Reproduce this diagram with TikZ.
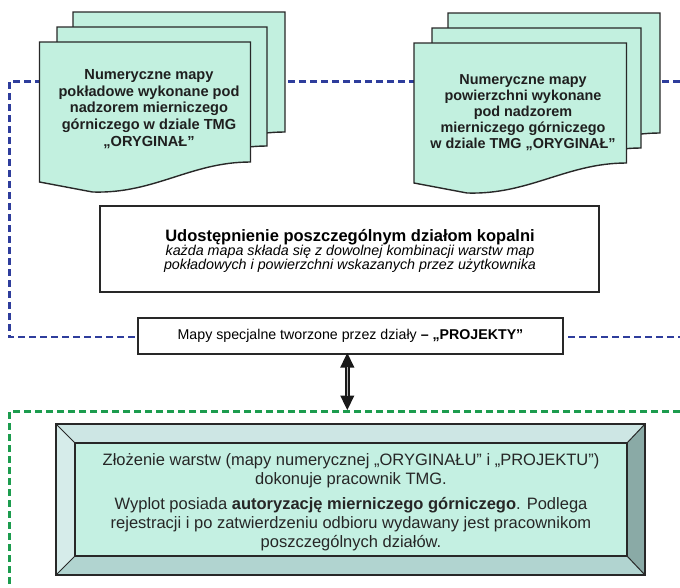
\documentclass[tikz,border=0pt]{standalone}
\usepackage{fontspec}
\setmainfont{Liberation Sans}
\usetikzlibrary{arrows.meta}
\definecolor{dashblue}{RGB}{46,61,156}
\definecolor{dashgreen}{RGB}{28,156,78}
\definecolor{sheetfill}{RGB}{194,240,223}
\definecolor{innerfill}{RGB}{196,240,226}
\definecolor{bevtop}{RGB}{205,230,228}
\definecolor{bevleft}{RGB}{214,236,234}
\definecolor{bevbottom}{RGB}{177,212,208}
\definecolor{bevright}{RGB}{138,170,166}
\definecolor{edge}{RGB}{40,40,40}
\tikzset{
  frameblue/.style={draw=dashblue, line width=2.5pt, dash pattern=on 7pt off 4pt},
  framegreen/.style={draw=dashgreen, line width=2.5pt, dash pattern=on 7pt off 4pt},
  sheet/.style={draw=edge, line width=1.4pt, fill=sheetfill, line join=miter},
  sheettext/.style={align=center, font=\fontsize{14.6}{16.6}\selectfont\bfseries, text=black!88},
  whitebox/.style={draw=edge, line width=1.6pt, fill=white, inner sep=0pt},
  bevel/.style={draw=edge, line width=1pt},
}
\newcommand\docsheet[5]{% left, top, right, bottom-right y, bottom-left y
  \path[sheet] (#1,#2) -- (#3,#2) -- (#3,#4)
    .. controls ({#3-60},{#4}) and ({#1+115},{#5+12}) .. ({#1+53},{#5+10})
    -- (#1,#5) -- cycle;}
\begin{document}
\begin{tikzpicture}[x=1pt,y=-1pt]
\useasboundingbox (0,0) rectangle (680,587);
% blue frame
\coordinate (bTL) at (9.3,81.7);
\coordinate (bTR) at (680,81.7);
\coordinate (bBL) at (9.3,337);
\coordinate (bBR) at (680,337);
\draw[frameblue] (bTR) -- (bTL) -- (bBL) -- (bBR);
% left stack
\docsheet{73}{12}{285}{132}{150}
\docsheet{57}{27}{267}{146}{166}
\docsheet{39.5}{42}{250.5}{162}{182}
% right stack
\docsheet{448}{13}{660}{133}{152}
\docsheet{432}{28}{641}{148}{168}
\docsheet{414}{43}{626.5}{163}{183}
\node[sheettext] (left) at (149,109) {Numeryczne mapy\\pokładowe wykonane pod\\nadzorem mierniczego\\górniczego w dziale TMG\\„ORYGINAŁ”};
\node[sheettext, font=\fontsize{14.4}{15.9}\selectfont\bfseries] (right) at (523,112.5) {Numeryczne mapy\\powierzchni wykonane\\pod nadzorem\\mierniczego górniczego\\w dziale TMG „ORYGINAŁ”};
% middle box
\node[whitebox, minimum width=499pt, minimum height=86pt] (udo) at (349.5,249) {};
\node[align=center, inner sep=0pt] (udotext) at (350,251)
  {{\fontsize{16.5}{18}\selectfont\bfseries Udostępnienie poszczególnym działom kopalni}\\[-1pt]
   {\fontsize{14.3}{15}\selectfont\itshape każda mapa składa się z dowolnej kombinacji warstw map}\\[-1pt]
   {\fontsize{14.3}{15}\selectfont\itshape pokładowych i powierzchni wskazanych przez użytkownika}};
\node[whitebox, minimum width=425pt, minimum height=36pt, font=\fontsize{14.2}{16}\selectfont] (mapy) at (350.5,336)
  {Mapy specjalne tworzone przez działy \textbf{– „PROJEKTY”}};
% green frame
\coordinate (gTL) at (9.3,411.7);
\coordinate (gTR) at (680,411.7);
\coordinate (gBL) at (9.3,587);
\draw[framegreen] (gTR) -- (gTL) -- (gBL);
% double arrow
\coordinate (arrEnd) at (347.3,410.5);
\draw[line width=4.5pt, draw=black!90, {Triangle[length=15pt,width=13pt]}-{Triangle[length=15pt,width=13pt]}] (347.3,352.5) -- (arrEnd);
\draw[line width=0.8pt, draw=gray!60] (347.3,367) -- (347.3,396);
% bevel box
\coordinate (A) at (56,424); \coordinate (B) at (645,424);
\coordinate (C) at (645,575); \coordinate (D) at (56,575);
\coordinate (a) at (75,443); \coordinate (b) at (627,443);
\coordinate (c) at (627,556); \coordinate (d) at (75,556);
\fill[bevtop] (A) -- (B) -- (b) -- (a) -- cycle;
\fill[bevright] (B) -- (C) -- (c) -- (b) -- cycle;
\fill[bevbottom] (D) -- (C) -- (c) -- (d) -- cycle;
\fill[bevleft] (A) -- (D) -- (d) -- (a) -- cycle;
\fill[innerfill] (a) rectangle (c);
\draw[bevel] (A) -- (a) (B) -- (b) (C) -- (c) (D) -- (d);
\draw[bevel, line width=1.3pt] (a) rectangle (c);
\draw[draw=edge, line width=1.6pt] (A) rectangle (C);
\node[align=center, font=\fontsize{16.5}{18.7}\selectfont, text=black!85] (zloz) at (351,502)
  {Złożenie warstw (mapy numerycznej „ORYGINAŁU” i „PROJEKTU”)\\
   dokonuje pracownik TMG.\\[7pt]
   Wyplot posiada \textbf{autoryzację mierniczego górniczego}. Podlega\\
   rejestracji i po zatwierdzeniu odbioru wydawany jest pracownikom\\
   poszczególnych działów.};
\end{tikzpicture}
\end{document}
